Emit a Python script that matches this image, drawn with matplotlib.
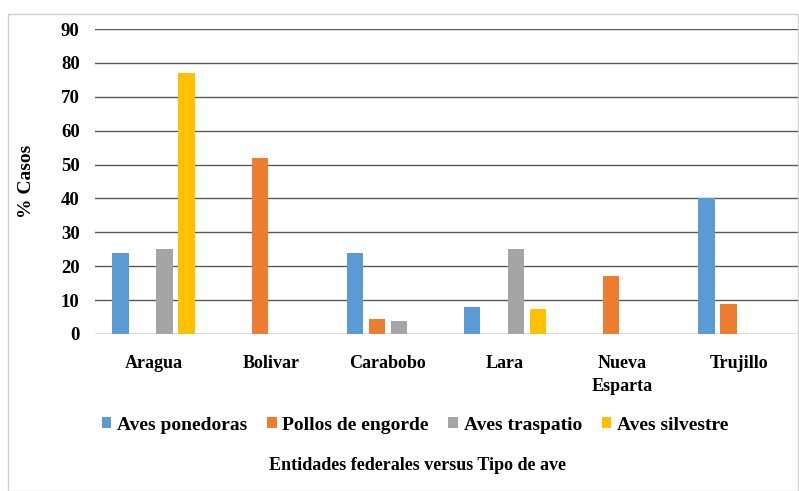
import matplotlib
matplotlib.use("Agg")
import matplotlib.pyplot as plt
import numpy as np
from matplotlib.patches import Rectangle

categories = ["Aragua", "Bolivar", "Carabobo", "Lara", "Nueva\nEsparta", "Trujillo"]
series_names = ["Aves ponedoras", "Pollos de engorde", "Aves traspatio", "Aves silvestre"]
aves_ponedoras = [24, 0, 24, 8, 0, 40]
pollos_engorde = [0, 52, 4.4, 0, 17.2, 8.9]
aves_traspatio = [25, 0, 3.9, 25, 0, 0]
aves_silvestre = [77, 0, 0, 7.4, 0, 0]
yticks = [0, 10, 20, 30, 40, 50, 60, 70, 80, 90]

colors = ["#5B9BD5", "#ED7D31", "#A5A5A5", "#FFC000"]
series = [aves_ponedoras, pollos_engorde, aves_traspatio, aves_silvestre]

plt.rcParams['font.family'] = ['Liberation Serif', 'DejaVu Serif']
plt.rcParams['font.weight'] = 'bold'

fig = plt.figure(figsize=(7.99, 4.91), dpi=100)
fig.patches.append(Rectangle((8/799, 0), 790/799, 1 - 14/491, transform=fig.transFigure,
                             fill=False, edgecolor="#D0D0D0", linewidth=1.0))
ax = fig.add_axes([95/799, 1 - 334/491, 703/799, (334 - 29)/491])

x = np.arange(len(categories))
step = 0.188
width = 0.14
for i, (vals, c, name) in enumerate(zip(series, colors, series_names)):
    ax.bar(x + (i - 1.5) * step, vals, width=width, color=c, label=name, zorder=3)

ax.set_xlim(-0.5, len(categories) - 0.5)
ax.set_ylim(0, 90)
ax.set_yticks(yticks)
ax.set_yticklabels([str(t) for t in yticks], fontsize=13.5, fontweight='bold')
ax.set_xticks(x)
ax.set_xticklabels(categories, fontsize=13, fontweight='bold', linespacing=1.45)
ax.tick_params(axis='both', length=0)
ax.tick_params(axis='y', pad=11)
ax.tick_params(axis='x', pad=15)
ax.yaxis.grid(True, color="#595959", linewidth=1.0, zorder=0)
for s in ax.spines.values():
    s.set_visible(False)

ax.set_ylabel("% Casos", fontsize=14, fontweight='bold')
ax.yaxis.set_label_coords(-60/703, 0.5)

leg = fig.legend(loc='center', bbox_to_anchor=(415/799, 1 - 425/491), ncol=4, frameon=False,
                 handlelength=0.5, handleheight=0.5, handletextpad=0.3,
                 columnspacing=1.0, prop={'weight': 'bold', 'size': 14})
fig.text(417/799, 1 - 466/491, "Entidades federales versus Tipo de ave", ha='center', va='center',
         fontsize=13, fontweight='bold')

fig.savefig("out.png", dpi=100)
